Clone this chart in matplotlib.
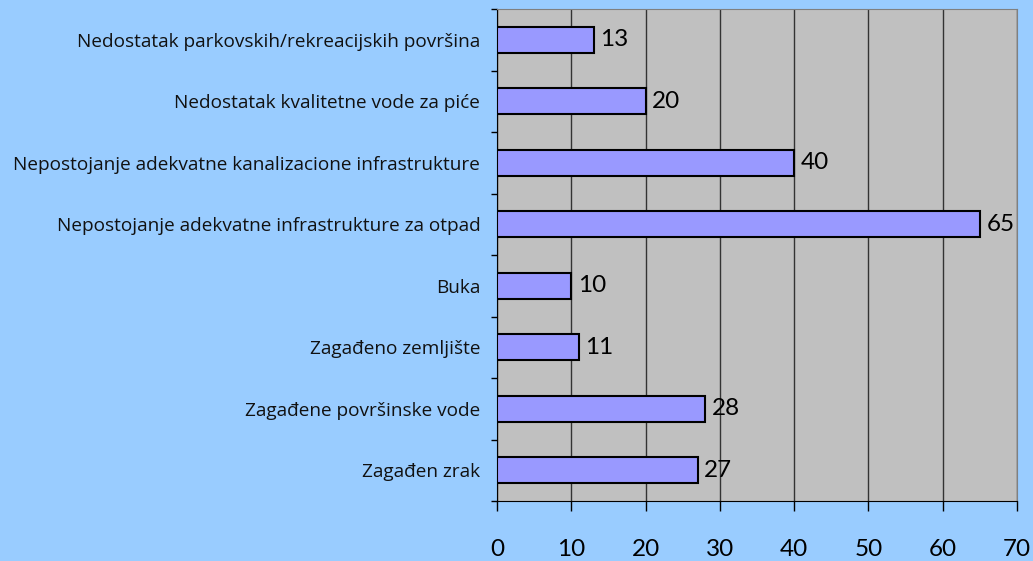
import matplotlib.pyplot as plt
import numpy as np

# Podaci (od vrha prema dnu)
categories = [
    "Nedostatak parkovskih/rekreacijskih površina",
    "Nedostatak kvalitetne vode za piće",
    "Nepostojanje adekvatne kanalizacione infrastrukture",
    "Nepostojanje adekvatne infrastrukture za otpad",
    "Buka",
    "Zagađeno zemljište",
    "Zagađene površinske vode",
    "Zagađen zrak",
]
values = [13, 20, 40, 65, 10, 11, 28, 27]
xticks = [0, 10, 20, 30, 40, 50, 60, 70]

bg = "#99CCFF"
fig = plt.figure(figsize=(10.33, 5.61), dpi=100, facecolor=bg)
ax = fig.add_axes([497 / 1033, 1 - 501 / 561, 520 / 1033, 492 / 561])
ax.set_facecolor("#C0C0C0")

y = np.arange(len(categories))
ax.barh(y, values, height=0.42, color="#9999FF", edgecolor="black", linewidth=1.5, zorder=3)

for yi, v in zip(y, values):
    ax.text(v + 0.9, yi, str(v), va="center", ha="left", fontsize=17.5, family="Lato", zorder=4)

ax.set_xlim(0, 70)
ax.set_ylim(len(categories) - 0.5, -0.5)
ax.set_xticks(xticks)
ax.set_xticklabels([str(t) for t in xticks], fontsize=17.5, family="Lato")
ax.tick_params(axis="x", length=7, width=1, pad=20, direction="out")

ax.set_yticks(y)
ax.set_yticklabels(categories, fontsize=13.7, family="Open Sans", color="#111111")
ax.tick_params(axis="y", length=0, pad=12)
ax.set_yticks(np.arange(len(categories) + 1) - 0.5, minor=True)
ax.tick_params(axis="y", which="minor", length=4, width=1, direction="out")

ax.grid(axis="x", color="#333333", linewidth=1, zorder=1)
for s in ["top", "right"]:
    ax.spines[s].set_color("#808080")
for s in ["left", "bottom"]:
    ax.spines[s].set_color("black")

fig.savefig("out.png", dpi=100, facecolor=bg)
